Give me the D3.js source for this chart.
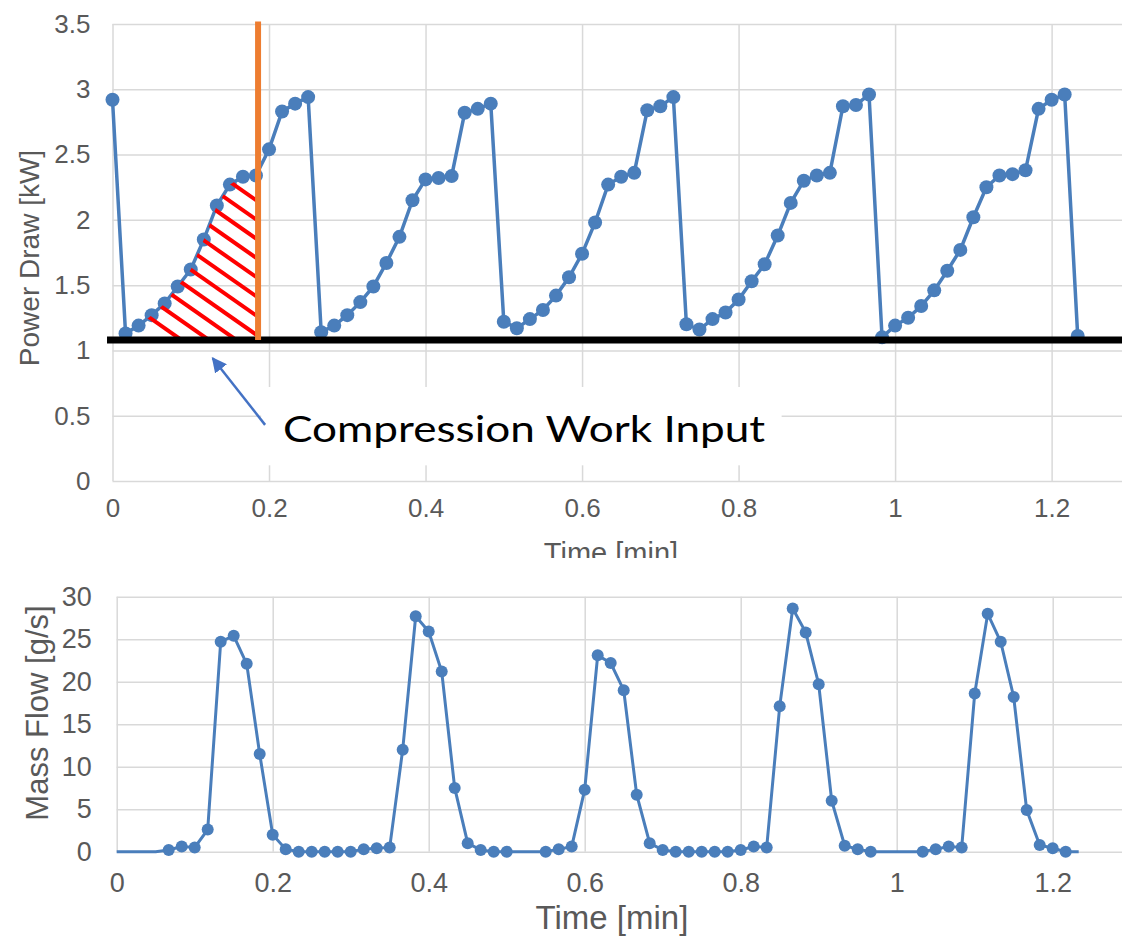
<!DOCTYPE html>
<html>
<head>
<meta charset="utf-8">
<script src="https://cdn.jsdelivr.net/npm/d3@7"></script>
<style>
  body { margin: 0; background: #fff; }
  svg { display: block; }
  .axis text { font-family: "Liberation Sans", Arial, sans-serif; fill: #595959; }
  .axis .domain { display: none; }
  .axis line { stroke: #d9d9d9; stroke-width: 1.5; }
  .title { font-family: "Liberation Sans", Arial, sans-serif; fill: #595959; }
</style>
</head>
<body>
<div id="chart"></div>
<script>
// one sample per second
var seconds = [0,1,2,3,4,5,6,7,8,9,10,11,12,13,14,15,16,17,18,19,20,21,22,23,24,
  25,26,27,28,29,30,31,32,33,34,35,36,37,38,39,40,41,42,43,44,45,46,47,48,49,
  50,51,52,53,54,55,56,57,58,59,60,61,62,63,64,65,66,67,68,69,70,71,72,73,74];

var powerKW = [2.92,1.13,1.19,1.27,1.36,1.49,1.62,1.85,2.11,2.27,2.33,2.34,2.54,2.83,2.89,2.94,
  1.14,1.19,1.27,1.37,1.49,1.67,1.87,2.15,2.31,2.32,2.335,2.82,2.85,2.89,
  1.22,1.17,1.24,1.31,1.42,1.56,1.74,1.98,2.27,2.33,2.36,2.84,2.87,2.94,
  1.20,1.16,1.24,1.29,1.39,1.53,1.66,1.88,2.13,2.30,2.34,2.36,2.87,2.88,2.96,
  1.10,1.19,1.25,1.34,1.46,1.61,1.77,2.02,2.25,2.34,2.35,2.38,2.85,2.92,2.96,
  1.11];

// null = empty cell, plotted as zero without a marker
var massFlow = [null,null,null,null,0.2,0.6,0.5,2.6,24.7,25.4,22.1,11.5,2.0,0.3,
  0,0,0,0,0,0.3,0.4,0.5,12.0,27.7,25.9,21.2,7.5,1.0,0.2,0,0,null,null,
  0,0.3,0.6,7.3,23.1,22.2,19.0,6.7,1.0,0.2,0,0,0,0,0,
  0.2,0.6,0.5,17.1,28.6,25.8,19.7,6.0,0.7,0.3,0,null,null,null,
  0,0.3,0.6,0.5,18.6,28.0,24.7,18.2,4.9,0.8,0.4,0,null];

var timeTicks = [0, 0.2, 0.4, 0.6, 0.8, 1, 1.2];
var timeLabels = ["0", "0.2", "0.4", "0.6", "0.8", "1", "1.2"];
var powerTicks = [0, 0.5, 1, 1.5, 2, 2.5, 3, 3.5];
var flowTicks = [0, 5, 10, 15, 20, 25, 30];

// annotation
var baseKW = 1.08;        // black reference line
var cutMin = 0.186;       // orange cut-off line
var hatchSeconds = [1,2,3,4,5,6,7,8,9,10,11,12];
var noteText = "Compression Work Input";

var W = 1122, H = 943;
var blue = "#4a7ebb";

var svg = d3.select("#chart").append("svg")
    .attr("width", W)
    .attr("height", H);

var defs = svg.append("defs");
defs.append("clipPath").attr("id", "topClip")
  .append("rect").attr("x", 0).attr("y", 0).attr("width", W).attr("height", 558);

// ---------- top chart: power draw ----------
var x1 = d3.scaleLinear().domain([0, 1.4]).range([112.5, 112.5 + 1.4 * 782.6]);
var y1 = d3.scaleLinear().domain([0, 3.5]).range([481, 24]);

var topG = svg.append("g").attr("clip-path", "url(#topClip)");

topG.append("g")
    .attr("class", "axis")
    .attr("transform", "translate(0," + y1(0) + ")")
    .call(d3.axisBottom(x1).tickValues(timeTicks)
      .tickFormat(function(d, i) { return timeLabels[i]; })
      .tickSize(-(y1(0) - y1(3.5))).tickPadding(18))
    .selectAll("text").style("font-size", "26px");

topG.append("g")
    .attr("class", "axis")
    .attr("transform", "translate(" + x1(0) + ",0)")
    .call(d3.axisLeft(y1).tickValues(powerTicks).tickFormat(String)
      .tickSize(-(W - x1(0))).tickPadding(22))
    .selectAll("text").style("font-size", "26px");

topG.append("text")
    .attr("class", "title")
    .attr("transform", "translate(39," + 258 + ") rotate(-90)")
    .attr("text-anchor", "middle")
    .style("font-size", "28px")
    .text("Power Draw [kW]");

topG.append("text")
    .attr("class", "title")
    .attr("x", 611).attr("y", 563)
    .attr("text-anchor", "middle")
    .style("font-size", "29px")
    .text("Time [min]");

var powerData = seconds.map(function(s, i) { return {t: s / 60, v: powerKW[i]}; });

var line1 = d3.line()
    .x(function(d) { return x1(d.t); })
    .y(function(d) { return y1(d.v); });

topG.append("path")
    .datum(powerData)
    .attr("fill", "none")
    .attr("stroke", blue)
    .attr("stroke-width", 3.5)
    .attr("d", line1);

topG.selectAll(".p-dot")
    .data(powerData)
  .enter().append("circle")
    .attr("class", "p-dot")
    .attr("cx", function(d) { return x1(d.t); })
    .attr("cy", function(d) { return y1(d.v); })
    .attr("r", 7)
    .attr("fill", blue);

// hatch between the curve and the reference line
var hatchData = hatchSeconds.map(function(s) { return {t: s / 60, v: powerKW[s]}; });
var hatchArea = d3.area()
    .x(function(d) { return x1(d.t); })
    .y0(y1(baseKW))
    .y1(function(d) { return y1(d.v); });

defs.append("clipPath").attr("id", "hatchArea")
  .append("path").attr("d", hatchArea(hatchData));
defs.append("clipPath").attr("id", "hatchCut")
  .append("rect")
    .attr("x", x1(0)).attr("y", y1(3.5))
    .attr("width", x1(cutMin) - x1(0))
    .attr("height", y1(baseKW) - y1(3.5));

var hatch = topG.append("g").attr("clip-path", "url(#hatchArea)")
  .append("g").attr("clip-path", "url(#hatchCut)");

var xo = x1(cutMin), slope = 0.7;
d3.range(11).forEach(function(k) {
  var yk = y1(2.14) + k * 19.2;
  hatch.append("line")
      .attr("x1", xo - 300).attr("y1", yk - 300 * slope)
      .attr("x2", xo + 10).attr("y2", yk + 10 * slope)
      .attr("stroke", "#ff0000")
      .attr("stroke-width", 4);
});

topG.append("line")
    .attr("x1", x1(-0.007)).attr("x2", W)
    .attr("y1", y1(baseKW)).attr("y2", y1(baseKW))
    .attr("stroke", "#000")
    .attr("stroke-width", 7);

topG.append("line")
    .attr("x1", x1(cutMin)).attr("x2", x1(cutMin))
    .attr("y1", y1(3.52)).attr("y2", y1(baseKW))
    .attr("stroke", "#ed7d31")
    .attr("stroke-width", 6);

// note box, text and arrow
topG.append("rect")
    .attr("x", x1(0.19)).attr("y", y1(0.72))
    .attr("width", x1(0.855) - x1(0.19))
    .attr("height", y1(0.12) - y1(0.72))
    .attr("fill", "#fff");

topG.append("text")
    .attr("x", x1(0.218)).attr("y", y1(0.3))
    .style("font-family", "Lato, 'Open Sans', sans-serif")
    .style("font-size", "37px")
    .attr("textLength", 482)
    .attr("lengthAdjust", "spacingAndGlyphs")
    .attr("fill", "#000")
    .text(noteText);

defs.append("marker")
    .attr("id", "arrowHead")
    .attr("viewBox", "0 0 10 10")
    .attr("refX", 9).attr("refY", 5)
    .attr("markerWidth", 6).attr("markerHeight", 6)
    .attr("markerUnits", "strokeWidth")
    .attr("orient", "auto")
  .append("path")
    .attr("d", "M0,0L10,5L0,10Z")
    .attr("fill", "#4472c4");

topG.append("line")
    .attr("x1", x1(0.195)).attr("y1", y1(0.43))
    .attr("x2", x1(0.128)).attr("y2", y1(0.94))
    .attr("stroke", "#4472c4")
    .attr("stroke-width", 2.5)
    .attr("marker-end", "url(#arrowHead)");

// ---------- bottom chart: mass flow ----------
var x2 = d3.scaleLinear().domain([0, 1.4]).range([116.7, 116.7 + 1.4 * 780]);
var y2 = d3.scaleLinear().domain([0, 30]).range([851.7, 596.7]);

var botG = svg.append("g");

botG.append("g")
    .attr("class", "axis")
    .attr("transform", "translate(0," + y2(0) + ")")
    .call(d3.axisBottom(x2).tickValues(timeTicks)
      .tickFormat(function(d, i) { return timeLabels[i]; })
      .tickSize(-(y2(0) - y2(30))).tickPadding(21))
    .selectAll("text").style("font-size", "27px");

botG.append("g")
    .attr("class", "axis")
    .attr("transform", "translate(" + x2(0) + ",0)")
    .call(d3.axisLeft(y2).tickValues(flowTicks).tickFormat(String)
      .tickSize(-(W - x2(0))).tickPadding(25))
    .selectAll("text").style("font-size", "27px");

botG.append("text")
    .attr("class", "title")
    .attr("transform", "translate(48," + 713 + ") rotate(-90)")
    .attr("text-anchor", "middle")
    .style("font-size", "31px")
    .text("Mass Flow [g/s]");

botG.append("text")
    .attr("class", "title")
    .attr("x", 612).attr("y", 929)
    .attr("text-anchor", "middle")
    .style("font-size", "33px")
    .text("Time [min]");

var flowData = seconds.map(function(s, i) { return {t: s / 60, v: massFlow[i]}; });

var line2 = d3.line()
    .x(function(d) { return x2(d.t); })
    .y(function(d) { return y2(d.v === null ? 0 : d.v); });

botG.append("path")
    .datum(flowData)
    .attr("fill", "none")
    .attr("stroke", blue)
    .attr("stroke-width", 3)
    .attr("d", line2);

botG.selectAll(".f-dot")
    .data(flowData.filter(function(d) { return d.v !== null; }))
  .enter().append("circle")
    .attr("class", "f-dot")
    .attr("cx", function(d) { return x2(d.t); })
    .attr("cy", function(d) { return y2(d.v); })
    .attr("r", 6)
    .attr("fill", blue);
</script>
</body>
</html>
